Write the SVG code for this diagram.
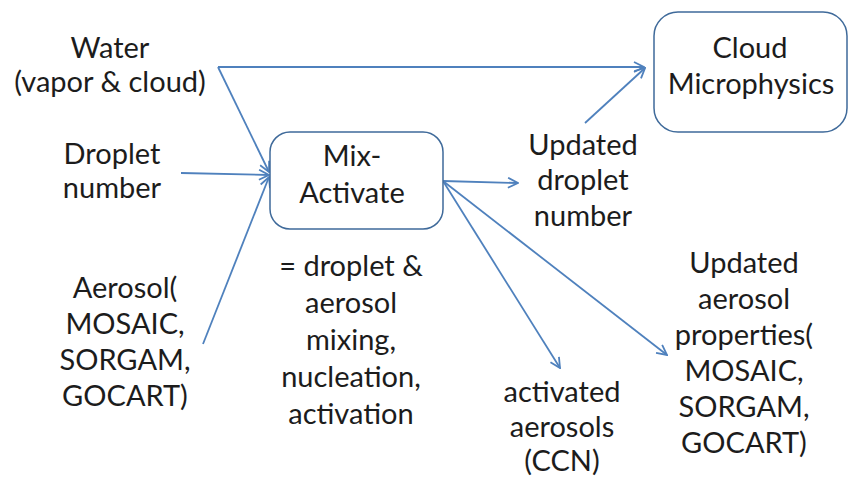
<svg xmlns="http://www.w3.org/2000/svg" width="849" height="477" viewBox="0 0 849 477">
<defs>
<style>
text{font-family:Lato,"Open Sans","Liberation Sans",sans-serif;font-size:29px;fill:#1c1c1c;text-anchor:middle}
.box{fill:#fff;stroke:#3f6a9a;stroke-width:1.5}
.c{fill:none;stroke:#4f81bd;stroke-width:1.8}
</style>
<marker id="ah" viewBox="0 0 12 12" refX="11" refY="6" markerWidth="12" markerHeight="12" markerUnits="userSpaceOnUse" orient="auto">
<path d="M1,1 L11,6 L1,11" fill="none" stroke="#4f81bd" stroke-width="1.8"/>
</marker>
</defs>
<rect width="849" height="477" fill="#fff"/>
<g id="connectors">
<path class="c" d="M218,67 L644,67" marker-end="url(#ah)"/>
<path class="c" d="M218,67 L269,172" marker-end="url(#ah)"/>
<path class="c" d="M181,173 L269,175" marker-end="url(#ah)"/>
<path class="c" d="M203,344 L269,177" marker-end="url(#ah)"/>
<path class="c" d="M585,123 L645,68" marker-end="url(#ah)"/>
<path class="c" d="M443,181 L518,183" marker-end="url(#ah)"/>
<path class="c" d="M443,181 L560,368" marker-end="url(#ah)"/>
<path class="c" d="M443,181 L667,355" marker-end="url(#ah)"/>
</g>
<g id="water"><text x="110" y="58">Water</text><text x="110" y="92">(vapor &amp; cloud)</text></g>
<g id="droplet"><text x="112" y="164">Droplet</text><text x="112" y="198">number</text></g>
<g id="aerosol"><text x="125" y="298">Aerosol(</text><text x="125" y="334">MOSAIC,</text><text x="125" y="370">SORGAM,</text><text x="125" y="406">GOCART)</text></g>
<g id="mix-activate"><rect class="box" x="270" y="132" width="173" height="97" rx="20"/><text x="352" y="166">Mix-</text><text x="352" y="203">Activate</text></g>
<g id="mix-desc"><text x="351" y="276">= droplet &amp;</text><text x="351" y="313">aerosol</text><text x="351" y="350">mixing,</text><text x="351" y="387">nucleation,</text><text x="351" y="424">activation</text></g>
<g id="cloud"><rect class="box" x="654" y="12" width="193" height="120" rx="24"/><text x="750" y="58">Cloud</text><text x="751" y="94">Microphysics</text></g>
<g id="updated-droplet"><text x="583" y="155">Updated</text><text x="583" y="190">droplet</text><text x="583" y="226">number</text></g>
<g id="activated"><text x="562" y="402">activated</text><text x="562" y="437">aerosols</text><text x="562" y="471">(CCN)</text></g>
<g id="updated-aerosol"><text x="744" y="273">Updated</text><text x="744" y="309">aerosol</text><text x="744" y="345">properties(</text><text x="744" y="381">MOSAIC,</text><text x="744" y="417">SORGAM,</text><text x="744" y="453">GOCART)</text></g>
</svg>
